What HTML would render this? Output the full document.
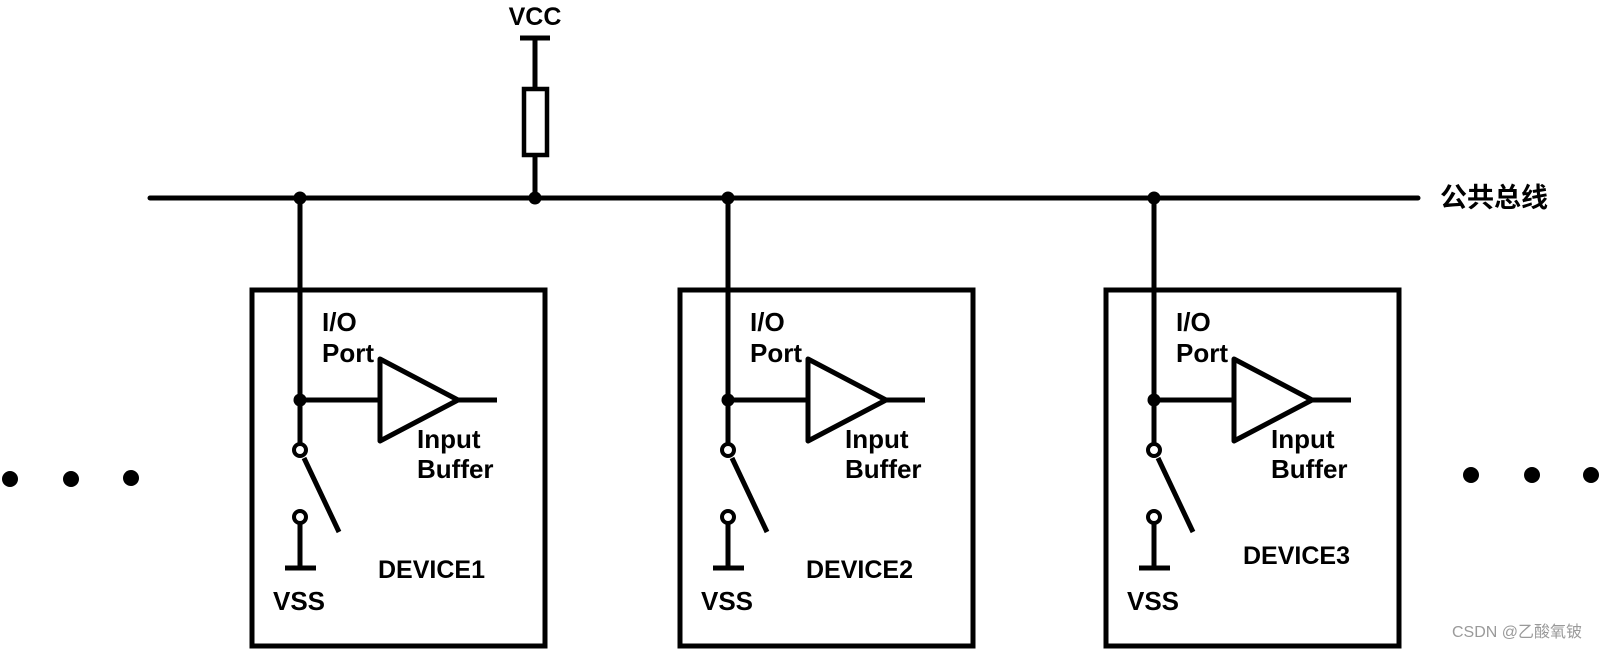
<!DOCTYPE html>
<html><head><meta charset="utf-8"><style>
html,body{margin:0;padding:0;background:#fff;}
svg{display:block}
text{font-family:"Liberation Sans","Noto Sans CJK SC",sans-serif;font-weight:bold;fill:#000}
</style></head><body>
<svg width="1602" height="654" viewBox="0 0 1602 654" xmlns="http://www.w3.org/2000/svg">
<defs>
<g id="dev">
  <!-- W = 0 at wire x -->
  <rect x="-48" y="290" width="293" height="356" fill="none" stroke="#000" stroke-width="5"/>
  <line x1="0" y1="198" x2="0" y2="445" stroke="#000" stroke-width="5"/>
  <circle cx="0" cy="198" r="6.5" fill="#000"/>
  <circle cx="0" cy="400" r="6.5" fill="#000"/>
  <line x1="0" y1="400" x2="80" y2="400" stroke="#000" stroke-width="5"/>
  <polygon points="80,359 158,400 80,441" fill="none" stroke="#000" stroke-width="5" stroke-linejoin="round"/>
  <line x1="158" y1="400" x2="197" y2="400" stroke="#000" stroke-width="5"/>
  <circle cx="0" cy="450" r="6" fill="#fff" stroke="#000" stroke-width="4"/>
  <line x1="4" y1="458" x2="39" y2="532" stroke="#000" stroke-width="5"/>
  <circle cx="0" cy="517" r="6" fill="#fff" stroke="#000" stroke-width="4"/>
  <line x1="0" y1="523" x2="0" y2="568" stroke="#000" stroke-width="5"/>
  <line x1="-15" y1="568" x2="16" y2="568" stroke="#000" stroke-width="5"/>
  <text x="22" y="331" font-size="26">I/O</text>
  <text x="22" y="362" font-size="26">Port</text>
  <text x="117" y="448" font-size="26">Input</text>
  <text x="117" y="478" font-size="26">Buffer</text>
  <text x="-27" y="610" font-size="26">VSS</text>
</g>
</defs>
<!-- bus -->
<line x1="150" y1="198" x2="1418" y2="198" stroke="#000" stroke-width="5" stroke-linecap="round"/>
<text x="1440" y="207" font-size="27">公共总线</text>
<!-- VCC resistor -->
<text x="535" y="25" font-size="25" text-anchor="middle">VCC</text>
<line x1="520" y1="38" x2="550" y2="38" stroke="#000" stroke-width="5"/>
<line x1="535" y1="38" x2="535" y2="89" stroke="#000" stroke-width="5"/>
<rect x="524" y="89" width="23" height="66" fill="#fff" stroke="#000" stroke-width="4.5"/>
<line x1="535" y1="155" x2="535" y2="198" stroke="#000" stroke-width="5"/>
<circle cx="535" cy="198" r="6.5" fill="#000"/>
<!-- devices -->
<use href="#dev" transform="translate(300,0)"/>
<use href="#dev" transform="translate(728,0)"/>
<use href="#dev" transform="translate(1154,0)"/>
<text x="378" y="578" font-size="25">DEVICE1</text>
<text x="806" y="578" font-size="25">DEVICE2</text>
<text x="1243" y="564" font-size="25">DEVICE3</text>
<!-- ellipsis dots -->
<circle cx="10" cy="479" r="8" fill="#000"/>
<circle cx="71" cy="479" r="8" fill="#000"/>
<circle cx="131" cy="478" r="8" fill="#000"/>
<circle cx="1471" cy="475" r="8" fill="#000"/>
<circle cx="1532" cy="475" r="8" fill="#000"/>
<circle cx="1591" cy="475" r="8" fill="#000"/>
<text x="1452" y="637" font-size="16" style="font-weight:normal;fill:#9a9a9a">CSDN @乙酸氧铍</text>
</svg>
</body></html>
